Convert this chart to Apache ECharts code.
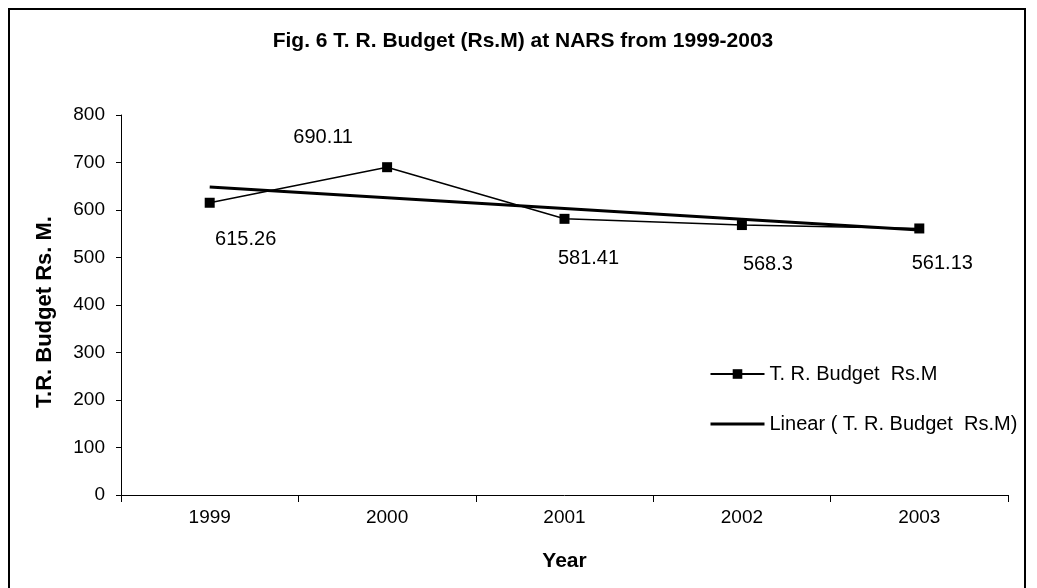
<!DOCTYPE html>
<html>
<head>
<meta charset="utf-8">
<script src="https://cdn.jsdelivr.net/npm/echarts@6/dist/echarts.min.js"></script>
<style>
  html, body { margin: 0; padding: 0; background: #fff; }
  #frame { position: absolute; left: 8px; top: 8px; width: 1018px; height: 590px; border: 2px solid #000; box-sizing: border-box; }
  #chart { position: absolute; left: 0; top: 0; width: 1037px; height: 588px; }
</style>
</head>
<body>
<div id="frame"></div>
<div id="chart"></div>
<script>
// values
var years = ["1999", "2000", "2001", "2002", "2003"];
var budget = [615.26, 690.11, 581.41, 568.3, 561.13];
var trend = [648.5, 625.8, 603.2, 580.5, 557.8];

(function () {
  var el = document.getElementById("chart");
  var chart = echarts.init(el);

  // manual label placement, as in the original figure
  var labelOffsets = [[36, 37], [-64, -30], [24, 40], [26, 39], [23, 35]];

  var font = "Liberation Sans, Arial, sans-serif";
  var seriesName = "T. R. Budget  Rs.M";
  var trendName = "Linear ( T. R. Budget  Rs.M)";

  chart.setOption({
    animation: false,
    textStyle: { fontFamily: font, color: "#000" },
    title: {
      text: "Fig. 6 T. R. Budget (Rs.M) at NARS from 1999-2003",
      left: 518,
      textAlign: "center",
      top: 26,
      textStyle: { fontFamily: font, fontSize: 21, fontWeight: "bold", color: "#000" }
    },
    grid: { left: 121, right: 29, top: 115, bottom: 93, containLabel: false },
    legend: {
      orient: "vertical",
      left: 704,
      top: 359,
      itemGap: 30,
      itemWidth: 54,
      itemHeight: 12,
      textStyle: { fontFamily: font, fontSize: 20, color: "#000" },
      data: [
        { name: seriesName },
        { name: trendName, itemStyle: { opacity: 0 }, lineStyle: { width: 3, color: "#000" } }
      ]
    },
    xAxis: {
      type: "category",
      data: years,
      boundaryGap: true,
      name: "Year",
      nameLocation: "middle",
      nameGap: 56,
      nameTextStyle: { fontFamily: font, fontSize: 21, fontWeight: "bold", color: "#000" },
      axisLine: { lineStyle: { color: "#000", width: 1 } },
      axisTick: { show: true, length: 7, alignWithLabel: false, lineStyle: { color: "#000" } },
      axisLabel: { fontFamily: font, fontSize: 19, color: "#000", margin: 13 },
      splitLine: { show: false }
    },
    yAxis: {
      type: "value",
      min: 0,
      max: 800,
      interval: 100,
      name: "T.R. Budget Rs. M.",
      nameLocation: "middle",
      nameGap: 65,
      nameTextStyle: { fontFamily: font, fontSize: 22, fontWeight: "bold", color: "#000", padding: [0, 14, 0, 0] },
      axisLine: { show: true, lineStyle: { color: "#000", width: 1 } },
      axisTick: { show: true, length: 5, inside: false, lineStyle: { color: "#000" } },
      axisLabel: { fontFamily: font, fontSize: 19, color: "#000", margin: 16 },
      splitLine: { show: false }
    },
    series: [
      {
        name: seriesName,
        type: "line",
        data: budget.map(function (v, i) {
          return {
            value: v,
            label: { offset: labelOffsets[i] }
          };
        }),
        symbol: "rect",
        symbolSize: 10,
        itemStyle: { color: "#000" },
        lineStyle: { color: "#000", width: 1.5 },
        label: {
          show: true,
          position: "inside",
          fontFamily: font,
          fontSize: 20,
          color: "#000",
          formatter: function (p) { return String(p.value); }
        },
        z: 3
      },
      {
        name: trendName,
        type: "line",
        data: trend,
        symbol: "none",
        itemStyle: { color: "#000" },
        lineStyle: { color: "#000", width: 3 },
        z: 2
      }
    ]
  });
})();
</script>
</body>
</html>
